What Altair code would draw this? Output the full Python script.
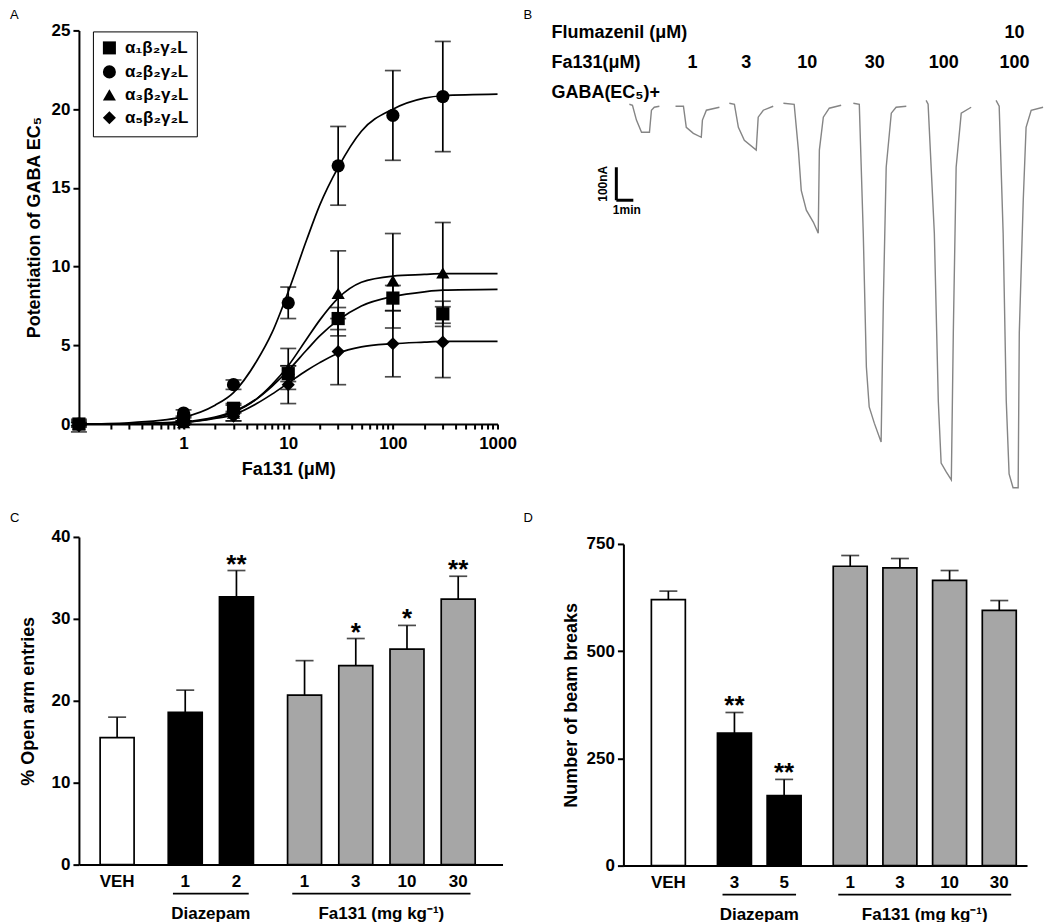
import altair as alt
import pandas as pd

FONT = "Liberation Sans"
GREY_BAR = "#a6a6a6"
TRACE_COL = "#858585"

panel_letters = ["A", "B", "C", "D"]

# ---------------- Panel A : concentration-response ----------------
conc = [0.1, 1, 3, 10, 30, 100, 300]
subunits = ["α₁β₂γ₂L", "α₂β₂γ₂L", "α₃β₂γ₂L", "α₅β₂γ₂L"]
shapes = ["square", "circle", "triangle-up", "diamond"]
a1_mean = [0.0, 0.3, 1.0, 3.2, 6.7, 8.0, 7.0]
a1_sem = [0.2, 0.1, 0.3, 0.5, 0.7, 0.8, 0.8]
a2_mean = [0.0, 0.7, 2.5, 7.7, 16.4, 19.6, 20.8]
a2_sem = [0.1, 0.2, 0.3, 1.0, 2.5, 2.85, 3.5]
a3_mean = [0.0, 0.1, 0.7, 3.5, 8.3, 9.1, 9.6]
a3_sem = [0.1, 0.1, 0.5, 1.3, 2.7, 3.0, 3.2]
a5_mean = [-0.1, 0.1, 0.5, 2.5, 4.6, 5.1, 5.2]
a5_sem = [0.4, 0.1, 0.3, 1.2, 2.1, 2.1, 2.25]

fit_conc = [0.1, 0.3, 1, 2, 3, 5, 7, 10, 15, 20, 30, 50, 100, 200, 300, 1000]
a1_fit = [0.0, 0.02, 0.15, 0.45, 0.8, 1.6, 2.4, 3.4, 4.7, 5.6, 6.6, 7.5, 8.1, 8.4, 8.5, 8.55]
a2_fit = [0.0, 0.08, 0.45, 1.2, 2.0, 4.0, 5.8, 8.4, 11.7, 13.9, 16.3, 18.6, 20.0, 20.7, 20.85, 20.95]
a3_fit = [0.0, 0.01, 0.12, 0.4, 0.75, 1.6, 2.5, 3.7, 5.4, 6.6, 8.0, 9.0, 9.4, 9.5, 9.55, 9.55]
a5_fit = [0.0, 0.01, 0.1, 0.35, 0.6, 1.3, 1.9, 2.6, 3.4, 3.9, 4.5, 4.9, 5.1, 5.2, 5.25, 5.25]

# ---------------- Panel B : current traces (time s, current nA) ----------------
trace_t = [
    [21, 32, 46, 64, 92, 99, 109, 127],
    [184, 212, 222, 247, 275, 279, 293, 339],
    [374, 392, 406, 427, 469, 476, 494, 529],
    [565, 603, 618, 628, 646, 671, 688, 692, 706, 727, 769],
    [812, 833, 847, 858, 868, 886, 910, 918, 928, 946, 963, 999],
    [1069, 1076, 1098, 1112, 1122, 1140, 1158, 1165, 1175, 1193, 1228],
    [1316, 1327, 1341, 1352, 1362, 1376, 1394, 1398, 1412, 1422, 1440, 1482],
]
trace_i = [
    [3, 0, -45, -82, -82, -15, -6, -3],
    [-3, -3, -67, -85, -97, -45, -15, -6],
    [6, 3, -67, -106, -136, -36, -15, -3],
    [6, 3, -136, -258, -318, -355, -388, -136, -36, -9, 0],
    [6, 3, -388, -794, -915, -964, -1021, -591, -188, -24, -6, -3],
    [15, 3, -388, -897, -1085, -1112, -1136, -691, -188, -24, -6],
    [15, -3, -388, -897, -1118, -1160, -1160, -691, -288, -67, -15, -6],
]
fa131_doses_b = ["", "1", "3", "10", "30", "100", "100"]
flumazenil_b = ["", "", "", "", "", "", "10"]
row_labels_b = ["Flumazenil (μM)", "Fa131(μM)", "GABA(EC₅)+"]
scalebar_nA = 100
scalebar_s = 60
scalebar_anchor = (-25, -288)

# ---------------- Panel C : elevated plus maze ----------------
c_labels = ["VEH", "1", "2", "1", "3", "10", "30"]
c_groups = ["VEH", "Diazepam", "Diazepam", "Fa131", "Fa131", "Fa131", "Fa131"]
c_mean = [15.5, 18.6, 32.7, 20.7, 24.3, 26.3, 32.4]
c_sem = [2.5, 2.7, 3.2, 4.2, 3.3, 2.9, 2.8]
c_sig = ["", "", "**", "", "*", "*", "**"]

# ---------------- Panel D : locomotor activity ----------------
d_labels = ["VEH", "3", "5", "1", "3", "10", "30"]
d_groups = ["VEH", "Diazepam", "Diazepam", "Fa131", "Fa131", "Fa131", "Fa131"]
d_mean = [620, 309, 163, 698, 694, 665, 595]
d_sem = [20, 48, 38, 25, 22, 23, 23]
d_sig = ["", "**", "**", "", "", "", ""]

group_titles = {"Diazepam": "Diazepam", "Fa131": "Fa131 (mg kg⁻¹)"}
group_order = ["VEH", "Diazepam", "Fa131"]
group_colors = ["white", "black", GREY_BAR]


def letter(ch, x, y):
    return alt.Chart(pd.DataFrame({"t": [ch]})).mark_text(
        align="left", baseline="alphabetic", font=FONT, fontSize=13, color="black"
    ).encode(x=alt.value(x), y=alt.value(y), text="t:N")


# ======== Panel A build ========
A_W, A_H = 419, 394
rows = []
for name, m_list, s_list in zip(subunits, [a1_mean, a2_mean, a3_mean, a5_mean],
                                [a1_sem, a2_sem, a3_sem, a5_sem]):
    for c, m, s in zip(conc, m_list, s_list):
        rows.append(dict(sub=name, conc=c, mean=m, lo=m - s, hi=m + s))
dfA = pd.DataFrame(rows)
frows = []
for name, f_list in zip(subunits, [a1_fit, a2_fit, a3_fit, a5_fit]):
    for c, v in zip(fit_conc, f_list):
        frows.append(dict(sub=name, conc=c, mean=v))
dfFit = pd.DataFrame(frows)

x_ticks = [k * 10 ** e for e in [-1, 0, 1, 2] for k in range(1, 10)][1:] + [1000]
xA = alt.X("conc:Q",
           scale=alt.Scale(type="log", domain=[0.1, 1000], nice=False),
           axis=alt.Axis(values=x_ticks, title="Fa131 (μM)", tickSize=5,
                         labelExpr="indexof([1, 10, 100, 1000], datum.value) >= 0 ? format(datum.value, 'd') : ''",
                         labelFlush=False, titlePadding=10, labelPadding=6))
y_ticks_A = [i * 2.5 for i in range(11)]
yA = alt.Y("mean:Q", scale=alt.Scale(domain=[0, 25], nice=False),
           axis=alt.Axis(values=y_ticks_A, title="Potentiation of GABA EC₅",
                         labelExpr="datum.value % 5 === 0 ? datum.label : ''",
                         titlePadding=8))

fit_lines = alt.Chart(dfFit).mark_line(color="black", strokeWidth=1.7, interpolate="monotone").encode(
    x=xA, y=yA, detail="sub:N")
err = alt.Chart(dfA).mark_rule(color="black", strokeWidth=1.7).encode(
    x=alt.X("conc:Q"), y=alt.Y("lo:Q"), y2="hi:Q")
cap_lo = alt.Chart(dfA).mark_tick(orient="horizontal", size=16, thickness=1.7, color="black").encode(
    x=alt.X("conc:Q"), y=alt.Y("lo:Q"))
cap_hi = alt.Chart(dfA).mark_tick(orient="horizontal", size=16, thickness=1.7, color="black").encode(
    x=alt.X("conc:Q"), y=alt.Y("hi:Q"))
pts = alt.Chart(dfA).mark_point(filled=True, color="black", opacity=1, size=175).encode(
    x=alt.X("conc:Q"), y=alt.Y("mean:Q"),
    shape=alt.Shape("sub:N", scale=alt.Scale(domain=subunits, range=shapes),
                    legend=alt.Legend(orient="none", legendX=14, legendY=1, title=None,
                                      strokeColor="black", fillColor="white", padding=8,
                                      labelFont=FONT, labelFontSize=17, labelFontWeight="bold",
                                      labelColor="black", symbolSize=170, symbolFillColor="black",
                                      symbolStrokeColor="black", rowPadding=3, labelOffset=7)))
panelA = alt.layer(fit_lines, err, cap_lo, cap_hi, pts, letter(panel_letters[0], -69, -11)).properties(
    width=A_W, height=A_H)

# ======== Panel B build ========
B_W, B_H = 428, 470
brow = []
for k, (ts, cs) in enumerate(zip(trace_t, trace_i)):
    for j, (t, c) in enumerate(zip(ts, cs)):
        brow.append(dict(trace=k, t=t, cur=c, ord=j))
dfB = pd.DataFrame(brow)
xB = alt.X("t:Q", scale=alt.Scale(domain=[0, 1510], nice=False, zero=False), axis=None)
yB = alt.Y("cur:Q", scale=alt.Scale(domain=[-1197, 227], nice=False, zero=False), axis=None)
traces = alt.Chart(dfB).mark_line(color=TRACE_COL, strokeWidth=1.4).encode(
    x=xB, y=yB, detail="trace:N", order="ord:Q")

lab = pd.DataFrame({
    "t": [(ts[0] + ts[-1]) / 2 for ts in trace_t],
    "dose": fa131_doses_b,
    "flu": flumazenil_b,
})
txt_style = dict(font=FONT, fontSize=18, fontWeight="bold", color="black", baseline="alphabetic")
dose_txt = alt.Chart(lab).mark_text(align="center", dx=-5, **txt_style).encode(
    x=alt.X("t:Q"), y=alt.value(38), text="dose:N")
flu_txt = alt.Chart(lab).mark_text(align="center", dx=-5, **txt_style).encode(
    x=alt.X("t:Q"), y=alt.value(8), text="flu:N")
rowlab = pd.DataFrame({"lab": row_labels_b, "r": [0, 1, 2]})
row_txt = [alt.Chart(rowlab[rowlab.r == i]).mark_text(align="left", **txt_style).encode(
    x=alt.value(-72), y=alt.value(8 + 30 * i), text="lab:N") for i in range(3)]

sb = pd.DataFrame({"t": [scalebar_anchor[0]], "t2": [scalebar_anchor[0] + scalebar_s],
                   "c": [scalebar_anchor[1]], "c2": [scalebar_anchor[1] + scalebar_nA],
                   "cm": [scalebar_anchor[1] + scalebar_nA / 2],
                   "tm": [scalebar_anchor[0] + scalebar_s / 2],
                   "lv": [f"{scalebar_nA}nA"], "lh": ["1min"]})
sb_v = alt.Chart(sb).mark_rule(color="black", strokeWidth=3).encode(
    x=alt.X("t:Q"), y=alt.Y("c:Q"), y2="c2:Q")
sb_h = alt.Chart(sb).mark_rule(color="black", strokeWidth=3).encode(
    x=alt.X("t:Q"), x2="t2:Q", y=alt.Y("c:Q"))
sb_vt = alt.Chart(sb).mark_text(angle=270, font=FONT, fontSize=12, fontWeight="bold", color="black",
                                baseline="bottom", dy=-6).encode(
    x=alt.X("t:Q"), y=alt.Y("cm:Q"), text="lv:N")
sb_ht = alt.Chart(sb).mark_text(font=FONT, fontSize=12, fontWeight="bold", color="black",
                                baseline="top", dy=5, dx=2).encode(
    x=alt.X("tm:Q"), y=alt.Y("c:Q"), text="lh:N")
panelB = alt.layer(traces, dose_txt, flu_txt, *row_txt, sb_v, sb_h, sb_vt, sb_ht,
                   letter(panel_letters[1], -100, -11)).properties(width=B_W, height=B_H)


# ======== Bar panels ========
def bar_panel(labels, groups, means, sems, sigs, W, H, xdom, ydom, yvals, ytitle, yrange, let, let_x,
              title_pad):
    gi = {g: i for i, g in enumerate(group_order)}
    pos = [i + 0.33 * gi[g] for i, g in enumerate(groups)]
    df = pd.DataFrame({"pos": pos, "label": labels, "group": groups, "mean": means,
                       "hi": [m + s for m, s in zip(means, sems)], "sig": sigs})
    gdf = df[df.group != "VEH"].groupby("group", sort=False)["pos"].agg(["min", "max"]).reset_index()
    gdf["start"] = gdf["min"] - 0.24
    gdf["end"] = gdf["max"] + 0.24
    gdf["mid"] = (gdf["min"] + gdf["max"]) / 2
    gdf["title"] = gdf["group"].map(group_titles)

    yscale = alt.Scale(domain=ydom, nice=False)
    if yrange is not None:
        yscale = alt.Scale(domain=ydom, nice=False, range=yrange)
    x = alt.X("pos:Q", scale=alt.Scale(domain=xdom, nice=False, zero=False),
              axis=alt.Axis(labels=False, ticks=False, title=None))
    y = alt.Y("mean:Q", scale=yscale, axis=alt.Axis(values=yvals, title=ytitle, titlePadding=title_pad))
    bars = alt.Chart(df).mark_bar(size=34, stroke="black", strokeWidth=1.7).encode(
        x=x, y=y,
        color=alt.Color("group:N", scale=alt.Scale(domain=group_order, range=group_colors), legend=None))
    e = alt.Chart(df).mark_rule(color="black", strokeWidth=1.7).encode(
        x=alt.X("pos:Q"), y=alt.Y("mean:Q"), y2="hi:Q")
    cap = alt.Chart(df).mark_tick(orient="horizontal", size=18, thickness=1.7, color="black").encode(
        x=alt.X("pos:Q"), y=alt.Y("hi:Q"))
    stars = alt.Chart(df).mark_text(font=FONT, fontSize=26, fontWeight="bold", color="black",
                                    baseline="alphabetic", dy=2).encode(
        x=alt.X("pos:Q"), y=alt.Y("hi:Q"), text="sig:N")
    xl = alt.Chart(df).mark_text(font=FONT, fontSize=17, fontWeight="bold", color="black",
                                 baseline="alphabetic").encode(
        x=alt.X("pos:Q"), y=alt.value(H + 22), text="label:N")
    ul = alt.Chart(gdf).mark_rule(color="black", strokeWidth=1.7).encode(
        x=alt.X("start:Q"), x2="end:Q", y=alt.value(H + 29))
    gl = alt.Chart(gdf).mark_text(font=FONT, fontSize=17, fontWeight="bold", color="black",
                                  baseline="alphabetic").encode(
        x=alt.X("mid:Q"), y=alt.value(H + 54), text="title:N")
    return alt.layer(bars, e, cap, stars, xl, ul, gl, letter(let, let_x, -15)).properties(width=W, height=H)


panelC = bar_panel(c_labels, c_groups, c_mean, c_sem, c_sig, 424, 328, [-0.648, 7.428], [0, 40],
                   [0, 10, 20, 30, 40], "% Open arm entries", None, panel_letters[2], -69, 14)
panelD = bar_panel(d_labels, d_groups, d_mean, d_sem, d_sig, 404, 329, [-0.804, 7.118], [0, 750],
                   [0, 250, 500, 750], "Number of beam breaks", [329, 7], panel_letters[3], -100, 6)

chart = alt.concat(panelA, panelB, panelC, panelD, columns=2,
                   spacing={"row": 37, "column": 121}, bounds="flush").resolve_scale(
    x="independent", y="independent", color="independent", shape="independent"
).configure_view(stroke=None).configure_axis(
    grid=False, domainColor="black", domainWidth=2, tickColor="black", tickWidth=2, tickSize=6,
    labelFont=FONT, labelFontSize=17, labelFontWeight="bold", labelColor="black", labelPadding=3,
    titleFont=FONT, titleFontSize=18, titleFontWeight="bold", titleColor="black", labelOverlap=False
).properties(padding={"left": 2, "top": 1, "right": 4, "bottom": 0})

chart.save("out.html", embed_options={"renderer": "svg", "actions": False})
